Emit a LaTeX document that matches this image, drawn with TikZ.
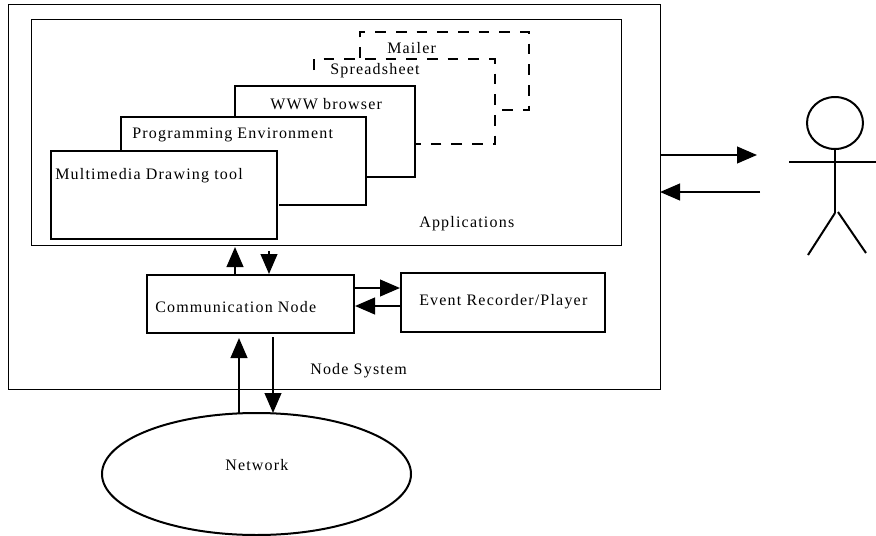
\documentclass[tikz,border=0pt]{standalone}
\usepackage{fontspec}
\setmainfont[LetterSpace=7.5]{Liberation Serif}
\usetikzlibrary{arrows.meta,shapes.geometric}
\tikzset{
 ln/.style={draw=black,line width=1.5pt},
 dsh/.style={draw=black,line width=1.1pt,dash pattern=on 8pt off 7.5pt},
 arr/.style={draw=black,line width=1.6pt,-{Triangle[length=15pt,width=12.5pt]}},
 lab/.style={font=\fontsize{12pt}{13pt}\selectfont,anchor=west,inner sep=0pt},
 thinbox/.style={draw=black,line width=0.9pt,anchor=north west,inner sep=0pt},
 thickbox/.style={draw=black,line width=1.7pt,anchor=north west,inner sep=0pt},
}
\begin{document}
\begin{tikzpicture}[x=0.75pt,y=-0.75pt]
\useasboundingbox (0,0) rectangle (876,536);
\node[thinbox,minimum width=652*0.75pt,minimum height=385*0.75pt] (sys) at (8,4) {};
\node[thinbox,minimum width=590*0.75pt,minimum height=226*0.75pt] (apps) at (31,19) {};
% dashed windows
\draw[dsh] (360,58) -- (360,32) -- (529,32) -- (529,110) -- (495,110);
\draw[dsh] (314,70) -- (314,59) -- (495,59) -- (495,144) -- (416,144);
% stacked windows
\draw[ln] (235,116) -- (235,86) -- (415,86) -- (415,177) -- (366,177);
\draw[ln] (121,150) -- (121,117) -- (366,117) -- (366,205) -- (279,205);
\node[thickbox,fill=white,minimum width=226*0.75pt,minimum height=88*0.75pt] (mm) at (50,150) {};
% boxes
\node[thickbox,minimum width=207*0.75pt,minimum height=58*0.75pt] (cn) at (146,274) {};
\node[thickbox,minimum width=204*0.75pt,minimum height=59*0.75pt] (ev) at (400,272) {};
\node[draw=black,line width=1.5pt,ellipse,minimum width=309*0.75pt,minimum height=122*0.75pt,inner sep=0pt] (net) at (256.5,474) {};
% labels
\node[lab] (t1) at (387,48) {Mailer};
\node[lab] (t2) at (330,71) {Spreadsheet};
\node[lab] (t3) at (270,104) {WWW browser};
\node[lab] (t4) at (132,135) {Programming Environment};
\node[lab] (t5) at (55,176) {Multimedia Drawing tool};
\node[lab] (t6) at (419,224) {Applications};
\node[lab] (t7) at (155,307) {Communication Node};
\node[lab] (t8) at (419,302) {Event Recorder/Player};
\node[lab] (t9) at (310,371) {Node System};
\node[lab] (t10) at (225,465) {Network};
% arrows
\coordinate (a1) at (235,274); \coordinate (a2) at (235,247);
\draw[arr] (a1) -- (a2);
\coordinate (b1) at (269,251); \coordinate (b2) at (269,274);
\draw[arr] (b1) -- (b2);
\coordinate (c1) at (354,288); \coordinate (c2) at (400,288);
\draw[arr] (c1) -- (c2);
\coordinate (d1) at (400,306); \coordinate (d2) at (355,306);
\draw[arr] (d1) -- (d2);
\coordinate (e1) at (239,413); \coordinate (e2) at (239,338);
\draw[arr] (e1) -- (e2);
\coordinate (f1) at (273,337); \coordinate (f2) at (273,413);
\draw[arr] (f1) -- (f2);
\coordinate (g1) at (660,155); \coordinate (g2) at (757,155);
\draw[arr] (g1) -- (g2);
\coordinate (h1) at (760,192); \coordinate (h2) at (660,192);
\draw[arr] (h1) -- (h2);
% person
\node[draw=black,line width=1.5pt,ellipse,minimum width=56*0.75pt,minimum height=52*0.75pt,inner sep=0pt] (head) at (835,123) {};
\coordinate (hip) at (835,213);
\coordinate (la) at (789,162); \coordinate (ra) at (876,162);
\coordinate (ll) at (808,255); \coordinate (rl) at (866,253);
\coordinate (rh) at (838,212);
\draw[ln] (head.south) -- (hip);
\draw[ln] (la) -- (ra);
\draw[ln] (ll) -- (hip);
\draw[ln] (rh) -- (rl);
\end{tikzpicture}
\end{document}
